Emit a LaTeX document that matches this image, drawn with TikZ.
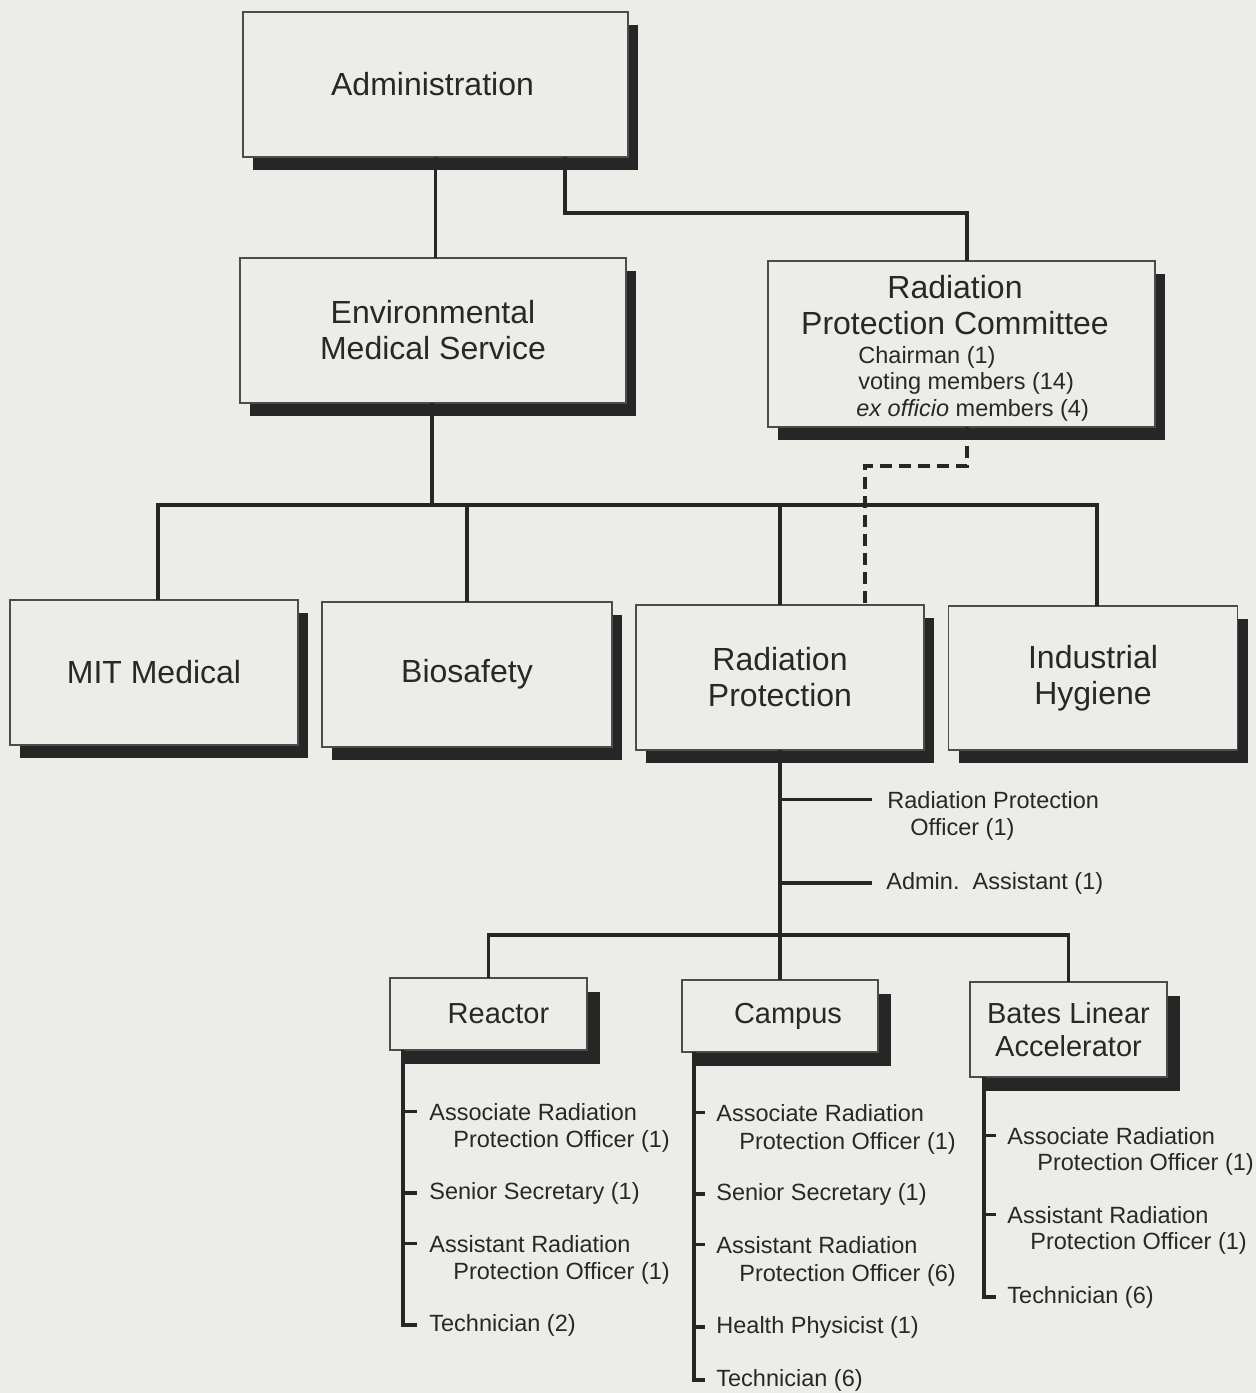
\documentclass[tikz,border=0pt]{standalone}
\usepackage{fontspec}
\setmainfont{Liberation Sans}
\usetikzlibrary{shadows,calc}
\definecolor{bg}{RGB}{236,236,233}
\definecolor{ink}{RGB}{40,40,40}
\begin{document}
\begin{tikzpicture}[x=0.5pt,y=-0.5pt,
  boxbase/.style={draw=black!70, line width=0.8pt, fill=bg, inner sep=0pt, outer sep=0pt, text=ink, align=center},
  bigbox/.style={boxbase, general shadow={fill=black!85, shadow xshift=5pt, shadow yshift=-6.5pt}},
  smallbox/.style={boxbase, general shadow={fill=black!85, shadow xshift=6.5pt, shadow yshift=-7pt}},
  big/.style={font=\fontsize{16}{18}\selectfont},
  mid/.style={font=\fontsize{14.5}{16.5}\selectfont},
  lbl/.style={font=\fontsize{11.75}{13}\selectfont, inner sep=0pt, anchor=base west, text=ink},
  conn/.style={draw=black!85, line width=1.6pt},
  dashconn/.style={conn, dash pattern=on 6pt off 3.5pt}]
\fill[bg] (0,0) rectangle (1256,1393);
\useasboundingbox (0,0) rectangle (1256,1393);

% top level boxes
\node[bigbox,big,minimum width=192.5pt,minimum height=72.5pt] (adm) at (435.5,84.5) {\hspace*{-3pt}Administration};
\node[bigbox,big,minimum width=193pt,minimum height=72.5pt] (ems) at (433,330.5) {Environmental\\Medical Service};
\node[bigbox,minimum width=193.5pt,minimum height=83pt] (rpc) at (961.5,344) {};
\node[big,text=ink,align=center,inner sep=0pt] (rpct) at (955,305) {Radiation\\Protection Committee};
\node[lbl] (rpc1) at (858,363) {Chairman (1)};
\node[lbl] (rpc2) at (858,389) {voting members (14)};
\node[lbl] (rpc3) at (856,416) {\textit{ex officio} members (4)};

% second row
\node[bigbox,big,minimum width=144pt,minimum height=72.5pt] (mit) at (154,672.5) {MIT Medical};
\node[bigbox,big,minimum width=145pt,minimum height=72.5pt] (bio) at (467,674.5) {Biosafety};
\node[bigbox,big,minimum width=144pt,minimum height=72.5pt] (rp) at (780,677.5) {Radiation\\Protection};
\node[bigbox,big,minimum width=144.5pt,minimum height=72pt] (ih) at (1093,678) {Industrial\\Hygiene};

% RP staff
\node[lbl] (rpo) at (887,808) {Radiation Protection};
\node[lbl] (rpo2) at (910,835) {Officer (1)};
\node[lbl] (aa) at (886,889) {Admin.\ \ Assistant (1)};

% third row
\node[smallbox,mid,minimum width=98.5pt,minimum height=36pt] (rea) at (488.5,1014) {\hspace*{10pt}Reactor};
\node[smallbox,mid,minimum width=98pt,minimum height=36pt] (cam) at (780,1016) {\hspace*{8pt}Campus};
\node[smallbox,mid,minimum width=98.5pt,minimum height=47.5pt] (bat) at (1068.5,1029.5) {Bates Linear\\Accelerator};

% Reactor staff
\node[lbl] (r1) at (429,1120) {Associate Radiation};
\node[lbl] (r1b) at (453,1147) {Protection Officer (1)};
\node[lbl] (r2) at (429,1199) {Senior Secretary (1)};
\node[lbl] (r3) at (429,1252) {Assistant Radiation};
\node[lbl] (r3b) at (453,1279) {Protection Officer (1)};
\node[lbl] (r4) at (429,1331) {Technician (2)};

% Campus staff
\node[lbl] (c1) at (716,1121) {Associate Radiation};
\node[lbl] (c1b) at (739,1149) {Protection Officer (1)};
\node[lbl] (c2) at (716,1200) {Senior Secretary (1)};
\node[lbl] (c3) at (716,1253) {Assistant Radiation};
\node[lbl] (c3b) at (739,1281) {Protection Officer (6)};
\node[lbl] (c4) at (716,1333) {Health Physicist (1)};
\node[lbl] (c5) at (716,1386) {Technician (6)};

% Bates staff
\node[lbl] (b1) at (1007,1144) {Associate Radiation};
\node[lbl] (b1b) at (1037,1170) {Protection Officer (1)};
\node[lbl] (b2) at (1007,1223) {Assistant Radiation};
\node[lbl] (b2b) at (1030,1249) {Protection Officer (1)};
\node[lbl] (b3) at (1007,1303) {Technician (6)};

% connectors: top
\draw[conn] (adm.south) -- (adm.south |- ems.north);
\coordinate (j1) at (565,213);
\draw[conn] (adm.south -| j1) -- (j1) -| ([xshift=2.75pt]rpc.north);

% bus to second row
\coordinate (bus) at (432,505);
\draw[conn] (ems.south -| bus) -- (bus);
\draw[conn] ([xshift=2pt]mit.north) |- (bus) -| ([xshift=2pt]ih.north);
\draw[conn] (bus -| bio.north) -- (bio.north);
\draw[conn] (bus -| rp.north) -- (rp.north);

% dashed link committee -> radiation protection
\coordinate (d1) at (967,466);
\draw[dashconn] ([xshift=2.75pt]rpc.south) -- (d1) -| ([xshift=42.5pt]rp.north);

% RP down
\draw[conn] (rp.south) -- (cam.north);
\draw[conn] (rp.south |- rpo.west) -- ([xshift=-7.5pt]rpo.west);
\draw[conn] (rp.south |- aa.west) -- ([xshift=-7pt]aa.west);

% lower bus
\coordinate (lb) at (780,935);
\draw[conn] (rea.north) |- (lb) -| (bat.north);

% Reactor list
\coordinate (rv) at ([xshift=6.5pt]rea.south west);
\draw[conn] (rv) |- ([xshift=-6pt]r4.west);
\foreach \n in {r1,r2,r3} \draw[conn] (rv |- \n.west) -- ([xshift=-6pt]\n.west);

% Campus list
\coordinate (cv) at ([xshift=6pt]cam.south west);
\draw[conn] (cv) |- ([xshift=-5.5pt]c5.west);
\foreach \n in {c1,c2,c3,c4} \draw[conn] (cv |- \n.west) -- ([xshift=-5.5pt]\n.west);

% Bates list
\coordinate (bv) at ([xshift=7pt]bat.south west);
\draw[conn] (bv) |- ([xshift=-5.5pt]b3.west);
\foreach \n in {b1,b2} \draw[conn] (bv |- \n.west) -- ([xshift=-5.5pt]\n.west);
\end{tikzpicture}
\end{document}
